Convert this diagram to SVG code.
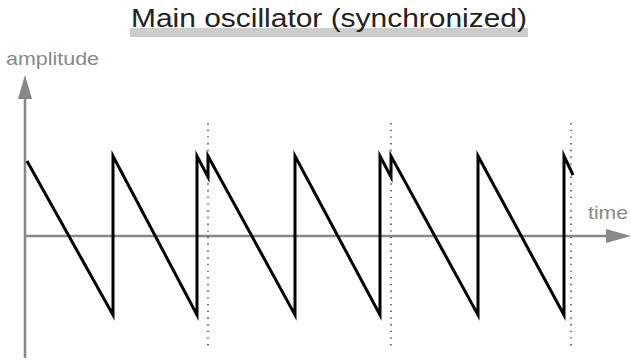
<svg xmlns="http://www.w3.org/2000/svg" width="631" height="360" viewBox="0 0 631 360">
<style>
.axis{stroke:#888;stroke-width:2.6;fill:none}
.head{fill:#888}
.sync{stroke:#333;stroke-width:1.4;stroke-dasharray:1.4 5.3;fill:none}
.wave{stroke:#000;stroke-width:3;fill:none;stroke-linejoin:miter;stroke-miterlimit:10}
.lbl{font-family:"Liberation Sans",Arial,sans-serif;fill:#888;font-size:19px}
.title{font-family:"Liberation Sans",Arial,sans-serif;fill:#222;font-size:25px}
</style>
<rect width="631" height="360" fill="#fff"/>
<g id="title">
<rect x="130" y="28" width="398" height="9" fill="#ccc"/>
<text class="title" x="329" y="27" text-anchor="middle" textLength="396" lengthAdjust="spacingAndGlyphs">Main oscillator (synchronized)</text>
</g>
<g id="axes">
<line class="axis" x1="25" y1="358" x2="25" y2="97"/>
<polygon class="head" points="25,75 32,99 18,99"/>
<line class="axis" x1="25" y1="236" x2="608" y2="236"/>
<polygon class="head" points="631,236 606,229 606,243"/>
<text class="lbl" x="6" y="65" textLength="93" lengthAdjust="spacingAndGlyphs">amplitude</text>
<text class="lbl" x="588" y="219" textLength="40" lengthAdjust="spacingAndGlyphs">time</text>
</g>
<g id="sync-lines">
<line class="sync" x1="208" y1="123" x2="208" y2="350"/>
<line class="sync" x1="391" y1="123" x2="391" y2="350"/>
<line class="sync" x1="571" y1="123" x2="571" y2="350"/>
</g>
<g id="waveform">
<polyline class="wave" points="27,161 113,315 113,156 197,315 197,156 208,177 208,156 295,315 295,156 380,315 380,156 391,177 391,156 478,315 478,156 564,315 564,156 573,175"/>
</g>
</svg>
